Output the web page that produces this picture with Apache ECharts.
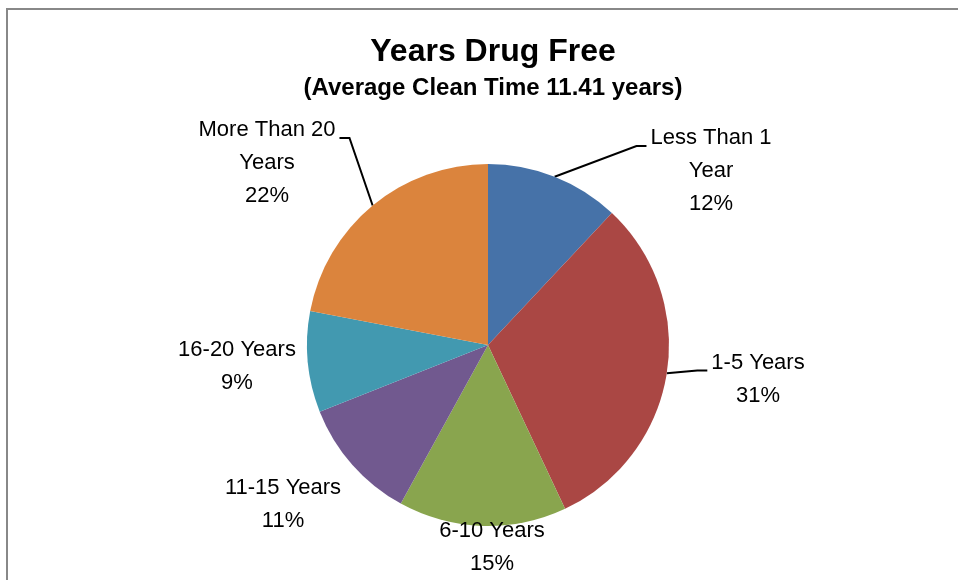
<!DOCTYPE html>
<html>
<head>
<meta charset="utf-8">
<script src="https://cdn.jsdelivr.net/npm/echarts@6/dist/echarts.min.js"></script>
<style>
  html, body { margin: 0; padding: 0; background: #fff; }
  #main { width: 958px; height: 580px; }
</style>
</head>
<body>
<div id="main"></div>
<script>
// data
var categories = ['Less Than 1 Year', '1-5 Years', '6-10 Years', '11-15 Years', '16-20 Years', 'More Than 20 Years'];
var percents = [12, 31, 15, 11, 9, 22];
var colors = ['#4672A8', '#AA4744', '#89A54E', '#71598F', '#4299B0', '#DB843D'];

// label placement (Excel style) and whether a leader line is drawn
var labelSpots = [[711, 171], [758, 379], [492, 547], [283, 504], [237, 366], [267, 163]];
var hasLeader = [true, true, false, false, false, true];
var LINE_H = 33;

var chart = echarts.init(document.getElementById('main'), null, { renderer: 'canvas' });

var pieData = categories.map(function (name, i) {
  return {
    name: name,
    value: percents[i],
    itemStyle: { color: colors[i] },
    labelLine: { show: hasLeader[i] }
  };
});

// long names wrap their last word onto a new line, like Excel does here
function wrapName(name) {
  if (name.length <= 13) return name;
  var k = name.lastIndexOf(' ');
  return name.slice(0, k) + '\n' + name.slice(k + 1);
}

var option = {
  backgroundColor: '#fff',
  animation: false,
  title: {
    text: 'Years Drug Free',
    subtext: '(Average Clean Time 11.41 years)',
    left: 488,
    top: 31,
    textAlign: 'center',
    itemGap: 8,
    textStyle: { fontFamily: 'Liberation Sans', fontSize: 32, fontWeight: 'bold', color: '#000' },
    subtextStyle: { fontFamily: 'Liberation Sans', fontSize: 24, fontWeight: 'bold', color: '#000' }
  },
  graphic: [{
    type: 'polyline',
    shape: { points: [[7, 580], [7, 9], [958, 9]] },
    style: { stroke: '#888', lineWidth: 2, fill: null }
  }],
  series: [{
    type: 'pie',
    center: [488, 345],
    radius: 181,
    startAngle: 90,
    clockwise: true,
    percentPrecision: 0,
    data: pieData,
    label: {
      show: true,
      position: 'outside',
      formatter: function (p) { return wrapName(p.name) + '\n' + p.percent + '%'; },
      fontFamily: 'Liberation Sans',
      fontSize: 22,
      lineHeight: LINE_H,
      color: '#000',
      align: 'center'
    },
    labelLine: {
      show: true,
      lineStyle: { color: '#000', width: 2 }
    },
    labelLayout: function (params) {
      var i = params.dataIndex;
      var spot = labelSpots[i];
      var res = { x: spot[0], y: spot[1], align: 'center', verticalAlign: 'middle' };
      if (hasLeader[i] && params.labelLinePoints) {
        var p0 = params.labelLinePoints[0];
        var w = params.labelRect.width;
        var n = Math.max(1, Math.round(params.labelRect.height / LINE_H));
        var y1 = spot[1] - (n - 1) * LINE_H / 2 + 8;
        var end, elbow;
        if (spot[0] > 488) {
          end = [spot[0] - w / 2 - 4, y1];
          elbow = [end[0] - 10, y1];
        } else {
          end = [spot[0] + w / 2 + 4, y1];
          elbow = [end[0] + 10, y1];
        }
        res.labelLinePoints = [p0, elbow, end];
      }
      return res;
    }
  }]
};

chart.setOption(option);
</script>
</body>
</html>
